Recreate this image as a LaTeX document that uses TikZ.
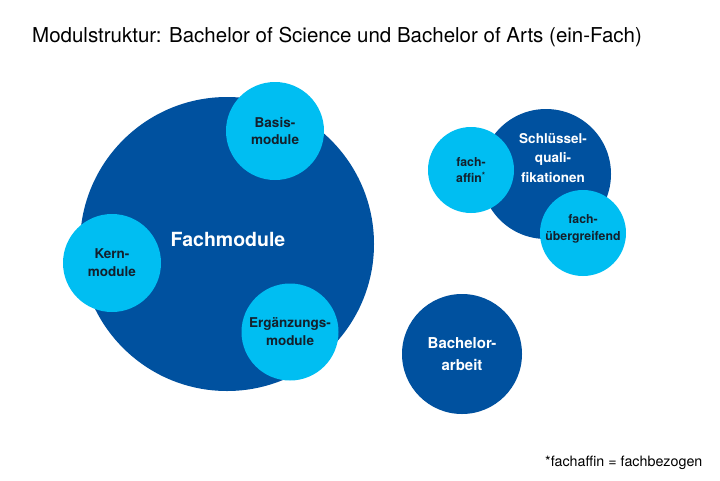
\documentclass[tikz,border=0pt]{standalone}
\usepackage{fontspec}
\setmainfont{TeX Gyre Heros}
\definecolor{darkblue}{HTML}{00519F}
\definecolor{lightblue}{HTML}{00BEF2}
\definecolor{txtdark}{HTML}{14202C}
\begin{document}
\begin{tikzpicture}[x=1pt,y=-1pt,
  dkcirc/.style={circle,fill=darkblue,inner sep=0pt,text=white,align=center,
    font=\bfseries\fontsize{15}{21.5}\selectfont},
  ltcirc/.style={circle,fill=lightblue,inner sep=0pt,text=txtdark,align=center,
    font=\bfseries\fontsize{13.5}{17.8}\selectfont},
  smalltxt/.style={font=\bfseries\fontsize{12.3}{16.5}\selectfont},
  bigtext/.style={inner sep=0pt,text=white,font=\bfseries\fontsize{19.5}{23}\selectfont},
  sqtext/.style={inner sep=0pt,text=white,align=center,font=\bfseries\fontsize{13.5}{19.5}\selectfont},
  plain/.style={inner sep=0pt,text=black}]
\useasboundingbox (0,0) rectangle (720,480);
\fill[white] (0,0) rectangle (720,480);
\node[plain,anchor=base west,font=\fontsize{20.5}{24}\selectfont] (title) at (32,42)
  {Modulstruktur: Bachelor of Science und Bachelor of Arts (ein-Fach)};
% Fachmodule group
\node[dkcirc,minimum size=294pt] (fach) at (227,244) {};
\node[ltcirc,minimum size=98pt] (basis) at (275,131) {Basis-\\module};
\node[ltcirc,minimum size=98pt] (kern) at (112,263) {Kern-\\module};
\node[ltcirc,minimum size=97pt] (erg) at (290,332) {Ergänzungs-\\module};
\node[bigtext] (fachlabel) at (228,239) {Fachmodule};
% Schluesselqualifikationen group
\node[dkcirc,minimum size=130pt] (sq) at (546,174) {};
\node[sqtext] (sqlabel) at (553,158) {Schlüssel-\\quali-\\fikationen};
\node[ltcirc,smalltxt,minimum size=86pt] (affin) at (471,170) {fach-\\affin\textsuperscript{*}};
\node[ltcirc,smalltxt,minimum size=86pt] (ueber) at (583,233) {};
\node[plain,text=txtdark,align=center,smalltxt] (ueberlabel) at (583,229) {fach-\\übergreifend};
% Bachelorarbeit
\node[dkcirc,minimum size=120pt] (ba) at (462,354) {Bachelor-\\arbeit};
% footnote
\node[plain,anchor=base west,font=\fontsize{14.3}{17}\selectfont] (foot) at (545,466)
  {*fachaffin = fachbezogen};
\end{tikzpicture}
\end{document}
